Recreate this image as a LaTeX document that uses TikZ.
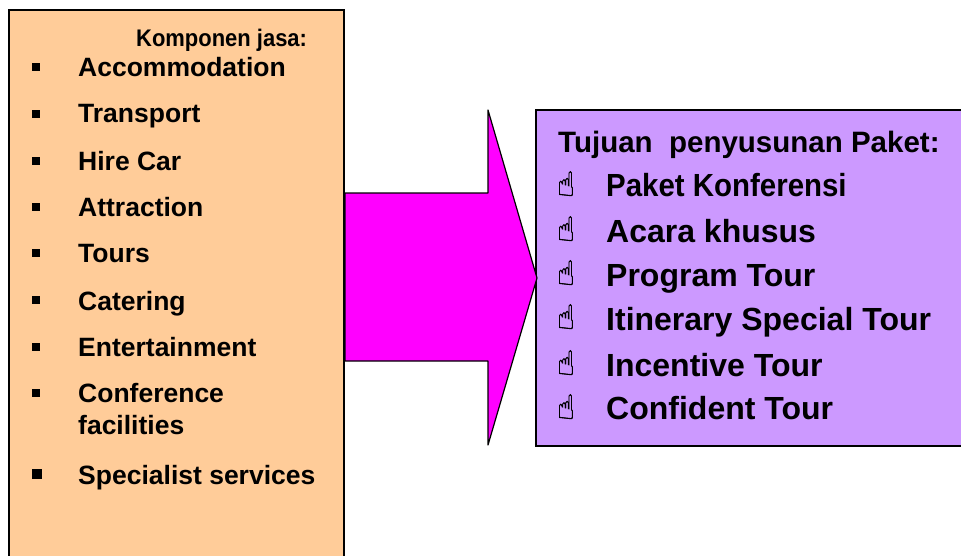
\documentclass[tikz,border=0pt]{standalone}
\usepackage{fontspec}
\setmainfont{Liberation Sans}
\newfontfamily\handfont[FakeBold=1.2]{DejaVu Sans}
\usepackage{graphicx}
\usepackage{tikz}
\newcommand{\handglyph}{\scalebox{1}[1.18]{☝}}
\tikzset{
  panel/.style={draw=black,line width=1.2pt},
  itemleft/.style={anchor=base west,inner sep=0pt,font=\bfseries\fontsize{26.5}{26.5}\selectfont},
  itemright/.style={anchor=base west,inner sep=0pt,font=\bfseries\fontsize{32}{32}\selectfont},
  bulletbox/.style={fill=black,inner sep=0pt,minimum size=8pt},
  handmark/.style={anchor=base,inner sep=0pt,font=\handfont\fontsize{29}{29}\selectfont}
}
\begin{document}
\begin{tikzpicture}[x=1pt,y=-1pt]
\useasboundingbox (0,0) rectangle (961,555);
\draw[panel,fill={rgb,255:red,255;green,204;blue,153}]  (9,10) rectangle (344,570) ;
\draw[panel,fill={rgb,255:red,204;green,153;blue,255}]  (536,110) rectangle (975,446) ;
\draw[panel,line join=round,fill={rgb,255:red,255;green,0;blue,255}]  (345,193) -- (488,193) -- (488,110) -- (537,278) -- (488,445) -- (488,361) -- (345,361) -- cycle ;

\node[anchor=base west,inner sep=0pt,font=\bfseries\fontsize{24}{24}\selectfont] (title1) at (136,46) {\scalebox{.915}[1]{Komponen jasa:}};

\node[bulletbox] (b1) at (36,67) {};
\node[itemleft] (acc) at (78,76) {Accommodation};
\node[bulletbox] (b2) at (36,114) {};
\node[itemleft] (tra) at (78,122) {Transport};
\node[bulletbox] (b3) at (36,161) {};
\node[itemleft] (hir) at (78,170) {Hire Car};
\node[bulletbox] (b4) at (36,207) {};
\node[itemleft] (att) at (78,216) {Attraction};
\node[bulletbox] (b5) at (36,253) {};
\node[itemleft] (tou) at (78,262) {Tours};
\node[bulletbox] (b6) at (36,300) {};
\node[itemleft] (cat) at (78,310) {Catering};
\node[bulletbox] (b7) at (36,347) {};
\node[itemleft] (ent) at (78,356) {Entertainment};
\node[bulletbox] (b8) at (36,393) {};
\node[itemleft] (con) at (78,402) {Conference};
\node[itemleft] (fac) at (78,434) {facilities};
\node[bulletbox,minimum size=10pt] (b9) at (37,474) {};
\node[itemleft] (spe) at (78,484) {Specialist services};

\node[anchor=base west,inner sep=0pt,font=\bfseries\fontsize{29.5}{29.5}\selectfont] (title2) at (558,152) {Tujuan\ \ penyusunan Paket:};

\node[handmark] (h1) at (566,196) {\handglyph};
\node[itemright] (pak) at (606,196) {\scalebox{.92}[1]{Paket Konferensi}};
\node[handmark] (h2) at (566,241) {\handglyph};
\node[itemright] (aca) at (606,242) {Acara khusus};
\node[handmark] (h3) at (566,285) {\handglyph};
\node[itemright] (pro) at (606,286) {Program Tour};
\node[handmark] (h4) at (566,329) {\handglyph};
\node[itemright] (iti) at (606,330) {Itinerary Special Tour};
\node[handmark] (h5) at (566,375) {\handglyph};
\node[itemright] (inc) at (606,376) {Incentive Tour};
\node[handmark] (h6) at (566,419) {\handglyph};
\node[itemright] (con2) at (606,419) {Confident Tour};
\end{tikzpicture}
\end{document}
